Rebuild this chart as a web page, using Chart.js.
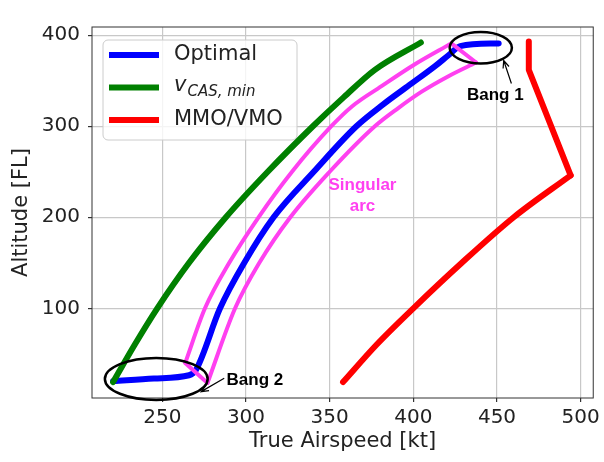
<!DOCTYPE html>
<html>
<head>
<meta charset="utf-8">
<script src="https://cdn.jsdelivr.net/npm/chart.js@4.4.1/dist/chart.umd.min.js"></script>
<style>
  html, body { margin: 0; padding: 0; background: #fff; }
  #wrap { width: 604px; height: 462px; }
</style>
</head>
<body>
<div id="wrap"><canvas id="chart"></canvas></div>
<script>
// true airspeed in kt, altitude in FL
const optimalTas = [220.6, 245, 266, 270, 284.5, 299, 316.5, 340.5, 366, 382, 399, 413, 421, 428, 451];
const optimalAlt = [20, 23, 26.5, 32, 100, 150, 200, 250, 300, 324, 347, 366, 378, 388, 391];

const casMinTas = [220.6, 233.5, 247, 266, 288, 313, 340, 358.5, 377, 404.5];
const casMinAlt = [19, 60, 100, 150, 200, 250, 300, 332, 362, 392];

// first three points: straight upper part, rest: curved lower part
const mmoTas = [469, 469, 494, 460, 429, 400, 378, 358];
const mmoAlt = [393, 362, 246, 200, 150, 100, 60, 19];

// singular arc outline
const arcLeftTas = [263.7, 275.5, 290, 307.5, 327.5, 351, 363.5, 381, 400, 422.7];
const arcLeftAlt = [40, 100, 150, 200, 250, 300, 322, 344, 367, 391];
const arcRightTas = [277, 293.5, 308, 326.5, 350, 377, 391, 405, 421, 437.5];
const arcRightAlt = [18, 100, 150, 200, 250, 300, 320, 338, 355, 370];

const xTicks = [250, 300, 350, 400, 450, 500];
const yTicks = [100, 200, 300, 400];

const pink = "#ff40f0";

function pts(xs, ys) {
  return xs.map((x, i) => ({ x: x, y: ys[i] }));
}

function lineSet(label, data, color, width, smooth, order) {
  return {
    label: label,
    data: data,
    showLine: true,
    borderColor: color,
    backgroundColor: color,
    borderWidth: width,
    pointRadius: 0,
    tension: smooth ? 0.4 : 0,
    cubicInterpolationMode: smooth ? "monotone" : "default",
    borderCapStyle: "round",
    borderJoinStyle: "round",
    order: order,
  };
}

// annotations (data coordinates)
const ellipses = [
  { x: 440.3, y: 386.3, rx: 18.6, ry: 17.3 },
  { x: 246.4, y: 22.4, rx: 30.7, ry: 23 },
];
const arrows = [
  { from: [458.6, 347], to: [454, 372.2] },
  { from: [287, 23.2], to: [273.2, 8.5] },
];
const notes = [
  { text: "Bang 1", x: 449, y: 334, align: "center", color: "#000" },
  { text: "Bang 2", x: 288.4, y: 20.4, align: "left", color: "#000" },
  { text: "Singular", x: 369.6, y: 235.3, align: "center", color: pink },
  { text: "arc", x: 369.6, y: 211.5, align: "center", color: pink },
];

const extras = {
  id: "extras",
  beforeDraw(chart) {
    const ctx = chart.ctx;
    ctx.save();
    ctx.fillStyle = "#fff";
    ctx.fillRect(0, 0, chart.width, chart.height);
    ctx.restore();
  },
  afterDatasetsDraw(chart) {
    const ctx = chart.ctx;
    const xs = chart.scales.x;
    const ys = chart.scales.y;
    const area = chart.chartArea;
    ctx.save();

    // frame
    ctx.strokeStyle = "#333";
    ctx.lineWidth = 1;
    ctx.strokeRect(area.left, area.top, area.right - area.left, area.bottom - area.top);

    // ellipses
    ctx.strokeStyle = "#000";
    ctx.lineWidth = 2.5;
    ellipses.forEach((e) => {
      const cx = xs.getPixelForValue(e.x);
      const cy = ys.getPixelForValue(e.y);
      const rx = Math.abs(xs.getPixelForValue(e.x + e.rx) - cx);
      const ry = Math.abs(ys.getPixelForValue(e.y + e.ry) - cy);
      ctx.beginPath();
      ctx.ellipse(cx, cy, rx, ry, 0, 0, Math.PI * 2);
      ctx.stroke();
    });

    // arrows
    ctx.lineWidth = 1.2;
    arrows.forEach((a) => {
      const x0 = xs.getPixelForValue(a.from[0]);
      const y0 = ys.getPixelForValue(a.from[1]);
      const x1 = xs.getPixelForValue(a.to[0]);
      const y1 = ys.getPixelForValue(a.to[1]);
      const ang = Math.atan2(y1 - y0, x1 - x0);
      ctx.beginPath();
      ctx.moveTo(x0, y0);
      ctx.lineTo(x1, y1);
      ctx.moveTo(x1 - 8 * Math.cos(ang - 0.4), y1 - 8 * Math.sin(ang - 0.4));
      ctx.lineTo(x1, y1);
      ctx.lineTo(x1 - 8 * Math.cos(ang + 0.4), y1 - 8 * Math.sin(ang + 0.4));
      ctx.stroke();
    });

    // text notes
    ctx.font = "bold 17px 'Liberation Sans', Arial, sans-serif";
    ctx.textBaseline = "middle";
    notes.forEach((n) => {
      ctx.fillStyle = n.color;
      ctx.textAlign = n.align;
      ctx.fillText(n.text, xs.getPixelForValue(n.x), ys.getPixelForValue(n.y));
    });

    // legend
    const bx = 103, by = 40, bw = 194, bh = 100;
    ctx.beginPath();
    ctx.roundRect(bx, by, bw, bh, 5);
    ctx.fillStyle = "rgba(255,255,255,0.8)";
    ctx.fill();
    ctx.strokeStyle = "#cccccc";
    ctx.lineWidth = 1;
    ctx.stroke();

    const rowsY = [55, 87.5, 120];
    chart.data.datasets.slice(0, 3).forEach((ds, i) => {
      const y = rowsY[i];
      ctx.strokeStyle = ds.borderColor;
      ctx.lineWidth = 6;
      ctx.lineCap = "butt";
      ctx.beginPath();
      ctx.moveTo(109, y);
      ctx.lineTo(159, y);
      ctx.stroke();

      ctx.fillStyle = "#222";
      ctx.textAlign = "left";
      const parts = ds.label.split("_");
      if (parts.length > 1) {
        ctx.textBaseline = "alphabetic";
        ctx.font = "italic 21px 'DejaVu Sans'";
        ctx.fillText(parts[0], 174, y + 3.5);
        const w = ctx.measureText(parts[0]).width;
        ctx.font = "italic 15px 'DejaVu Sans'";
        ctx.fillText(parts[1], 174 + w + 1, y + 8.5);
      } else {
        ctx.textBaseline = "middle";
        ctx.font = "21px 'DejaVu Sans'";
        ctx.fillText(ds.label, 174, y);
      }
    });
    ctx.restore();
  },
};

const tickFont = { family: "DejaVu Sans", size: 20 };
const titleFont = { family: "DejaVu Sans", size: 21 };

const arcLeft = pts(arcLeftTas, arcLeftAlt);
const arcRight = pts(arcRightTas, arcRightAlt);
const mmo = pts(mmoTas, mmoAlt);

new Chart(document.getElementById("chart"), {
  type: "scatter",
  data: {
    datasets: [
      lineSet("Optimal", pts(optimalTas, optimalAlt), "#0000ff", 6, true, 4),
      lineSet("v_CAS, min", pts(casMinTas, casMinAlt), "#008000", 6, true, 3),
      lineSet("MMO/VMO", mmo.slice(0, 3), "#ff0000", 6, false, 2),
      lineSet("MMO/VMO lower", mmo.slice(2), "#ff0000", 6, true, 2),
      lineSet("arc left", arcLeft, pink, 4, true, 1),
      lineSet("arc right", arcRight, pink, 4, true, 1),
      lineSet("arc top", [arcLeft[arcLeft.length - 1], arcRight[arcRight.length - 1]], pink, 4, false, 1),
      lineSet("arc bottom", [arcLeft[0], arcRight[0]], pink, 4, false, 1),
    ],
  },
  options: {
    responsive: true,
    maintainAspectRatio: false,
    animation: false,
    events: [],
    layout: { padding: { top: 27, right: 9, left: 0, bottom: 0 } },
    plugins: {
      legend: { display: false },
      tooltip: { enabled: false },
    },
    scales: {
      x: {
        type: "linear",
        min: 208,
        max: 507.5,
        afterFit: (s) => { s.height = 64; },
        afterBuildTicks: (s) => { s.ticks = xTicks.map((v) => ({ value: v })); },
        ticks: { font: tickFont, color: "#222", padding: 4, maxRotation: 0 },
        grid: { color: "#c8c8c8", lineWidth: 1.2, tickLength: 4, tickColor: "#333" },
        border: { display: false },
        title: {
          display: true,
          text: "True Airspeed [kt]",
          font: titleFont,
          color: "#222",
          padding: { top: 0, bottom: 8 },
        },
      },
      y: {
        type: "linear",
        min: 1.5,
        max: 409,
        afterFit: (s) => { s.width = 92; },
        afterBuildTicks: (s) => { s.ticks = yTicks.map((v) => ({ value: v })); },
        ticks: { font: tickFont, color: "#222", padding: 8 },
        grid: { color: "#c8c8c8", lineWidth: 1.2, tickLength: 4, tickColor: "#333" },
        border: { display: false },
        title: {
          display: true,
          text: "Altitude [FL]",
          font: titleFont,
          color: "#222",
          padding: { top: 9, bottom: 0 },
        },
      },
    },
  },
  plugins: [extras],
});
</script>
</body>
</html>
